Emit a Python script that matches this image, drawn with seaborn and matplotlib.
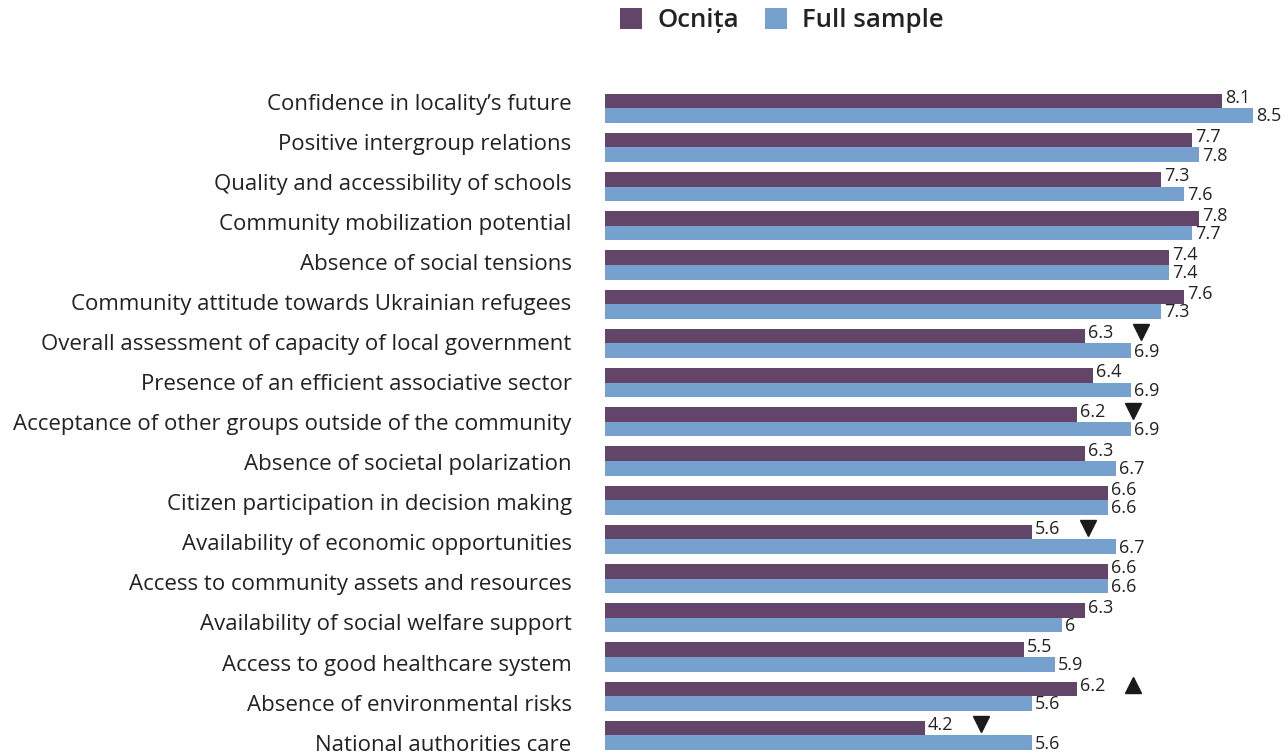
import matplotlib
matplotlib.use("Agg")
import matplotlib.pyplot as plt
import matplotlib.transforms as mtransforms
from matplotlib.patches import Patch
import pandas as pd
import seaborn as sns

# ---- data ----
categories = [
    "Confidence in locality’s future",
    "Positive intergroup relations",
    "Quality and accessibility of schools",
    "Community mobilization potential",
    "Absence of social tensions",
    "Community attitude towards Ukrainian refugees",
    "Overall assessment of capacity of local government",
    "Presence of an efficient associative sector",
    "Acceptance of other groups outside of the community",
    "Absence of societal polarization",
    "Citizen participation in decision making",
    "Availability of economic opportunities",
    "Access to community assets and resources",
    "Availability of social welfare support",
    "Access to good healthcare system",
    "Absence of environmental risks",
    "National authorities care",
]
ocnita = [8.1, 7.7, 7.3, 7.8, 7.4, 7.6, 6.3, 6.4, 6.2, 6.3, 6.6, 5.6, 6.6, 6.3, 5.5, 6.2, 4.2]
full_sample = [8.5, 7.8, 7.6, 7.7, 7.4, 7.3, 6.9, 6.9, 6.9, 6.7, 6.6, 6.7, 6.6, 6.0, 5.9, 5.6, 5.6]
# significance arrows shown next to the Ocnița value
trend = ["", "", "", "", "", "", "down", "", "down", "", "", "down", "", "", "", "up", "down"]

series_names = ["Ocnița", "Full sample"]
colors = ["#634569", "#76a1cf"]

# ---- long-form table for seaborn ----
df = pd.DataFrame({
    "category": categories * 2,
    "value": ocnita + full_sample,
    "series": [series_names[0]] * len(categories) + [series_names[1]] * len(categories),
})

sns.set_theme(style="white")
plt.rcParams["font.family"] = ["Open Sans", "DejaVu Sans"]

fig = plt.figure(figsize=(12.84, 7.55), dpi=100)
row_px = 39.2
ax = fig.add_axes([605 / 1284, 0.0, 1 - 605 / 1284, row_px * len(categories) / 755])

bar_width = 0.74
sns.barplot(data=df, y="category", x="value", hue="series", palette=colors,
            orient="h", width=bar_width, gap=0, saturation=1, linewidth=0,
            legend=False, ax=ax)

ax.set_xticks([])
ax.set_xlabel("")
ax.set_ylabel("")
for s in ax.spines.values():
    s.set_visible(False)

# category labels run on a slightly wider pitch (40 px) than the bar rows
label_px = 40.06
ax.set_yticks([i + (-6.5 + (label_px - row_px) * i) / row_px for i in range(len(categories))])
ax.set_yticklabels(categories)
ax.tick_params(axis="y", length=0, pad=24, labelsize=16, labelcolor="#222222")

# ---- value labels ----
half = bar_width / 4
purple_tr = mtransforms.offset_copy(ax.transData, fig=fig, x=3, y=3, units="dots")
blue_tr = mtransforms.offset_copy(ax.transData, fig=fig, x=3, y=-1, units="dots")
for i in range(len(categories)):
    ax.text(ocnita[i], i - half, f"{ocnita[i]:g}", transform=purple_tr,
            va="center", ha="left", fontsize=13, color="#222222")
    ax.text(full_sample[i], i + half, f"{full_sample[i]:g}", transform=blue_tr,
            va="center", ha="left", fontsize=13, color="#222222")

# ---- trend markers ----
marker_tr = mtransforms.offset_copy(ax.transData, fig=fig, x=56, y=4, units="dots")
for i, t in enumerate(trend):
    if t:
        ax.plot(ocnita[i], i - half, marker="v" if t == "down" else "^",
                markersize=12, color="#1a1a1a", transform=marker_tr, clip_on=False)

# fix limits after everything is drawn (ax.plot would otherwise autoscale)
ax.set_xlim(0, (1284 - 605) / 76.2)
ax.set_ylim(len(categories) - 0.5, -0.5)

# ---- legend ----
handles = [Patch(facecolor=c, edgecolor="none") for c in colors]
fig.legend(handles, series_names, loc="upper left", bbox_to_anchor=(597 / 1284, 1.02),
           ncol=2, frameon=False, handlelength=0.85, handleheight=0.85,
           handletextpad=0.6, columnspacing=1.0,
           prop={"size": 18.5, "weight": "semibold"}, labelcolor="#222222")

fig.savefig("out.png", dpi=100)
